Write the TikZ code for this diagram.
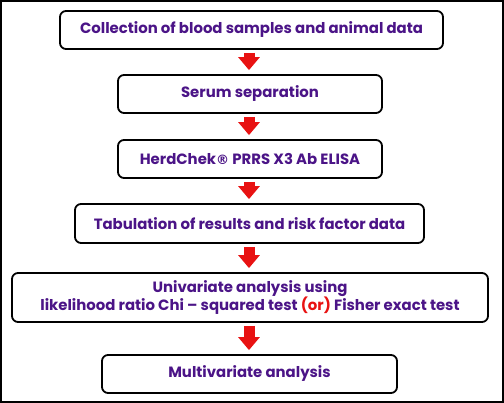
\documentclass[tikz,border=0pt]{standalone}
\usepackage{fontspec}
\setmainfont{Poppins}
\newfontfamily\regfont{DejaVu Sans}
\usetikzlibrary{arrows.meta,calc}
\definecolor{txtpurple}{RGB}{75,20,135}
\definecolor{arrred}{RGB}{232,18,18}
\tikzset{
  stepbox/.style={draw=black, line width=1.8pt, rounded corners=6pt, fill=white,
    minimum height=38pt, inner sep=0pt, align=center, text=txtpurple,
    font=\fontsize{14.9}{18}\selectfont\bfseries},
  bigarrow/.style={draw=arrred, line width=11pt, -{Triangle[width=21pt,length=13pt]},
    shorten <=3pt, shorten >=4pt},
}
\begin{document}
\begin{tikzpicture}[x=1pt,y=-1pt]
\useasboundingbox (0,0) rectangle (504,403);
\draw[line width=2pt] (1,1) rectangle (503,402);
\node[stepbox, minimum width=383pt] (b1) at (251.5,30) {Collection of blood samples and animal data};
\node[stepbox, minimum width=264pt] (b2) at (250,94) {Serum separation};
\node[stepbox, minimum width=264pt] (b3) at (250,159) {HerdChek{\regfont\fontsize{13}{15}\selectfont ®} PRRS X3 Ab ELISA};
\node[stepbox, minimum width=349pt, minimum height=39pt] (b4) at (249.5,223.5) {Tabulation of results and risk factor data};
\node[stepbox, minimum width=476pt, minimum height=49pt] (b5) at (250,297.5) {Univariate analysis using\\likelihood ratio Chi -- squared test {\color{arrred}(or)} Fisher exact test};
\node[stepbox, minimum width=295pt] (b6) at (249.5,374) {Multivariate analysis};
\foreach \a/\b in {b1/b2,b2/b3,b3/b4,b4/b5,b5/b6}{
  \draw[bigarrow] (\a.south -| 249,0) -- (\b.north -| 249,0);
}
\end{tikzpicture}
\end{document}
